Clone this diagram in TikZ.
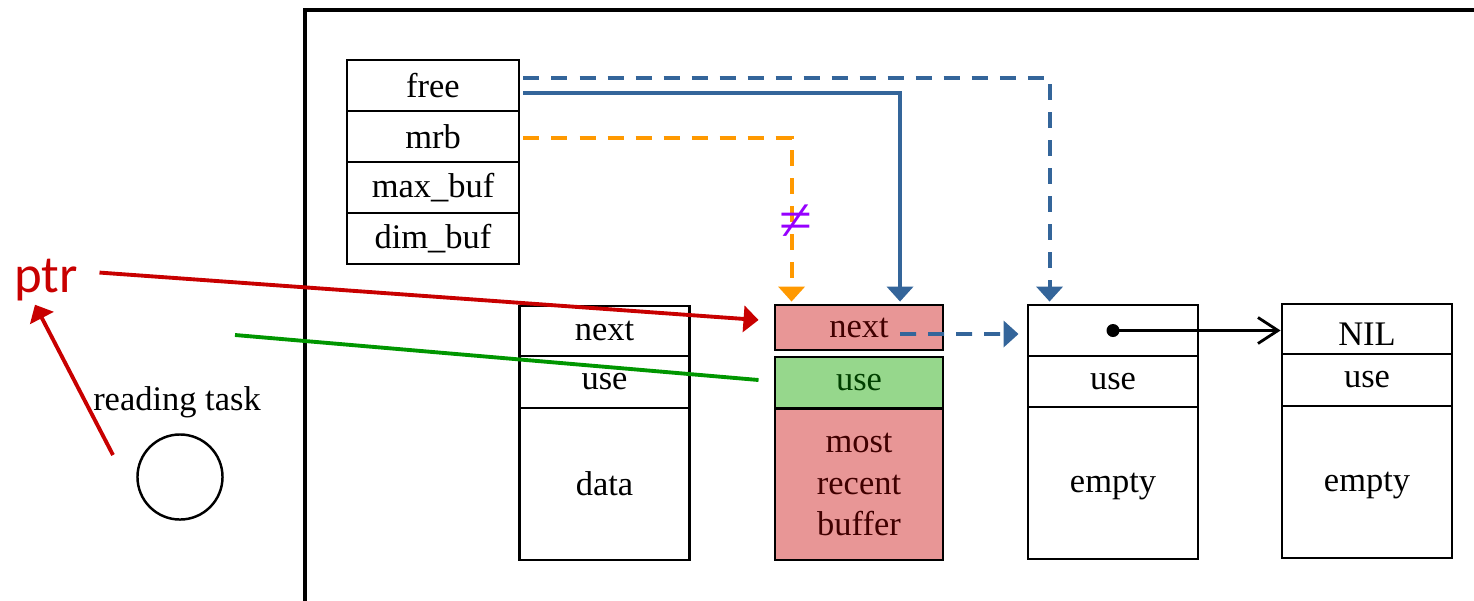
\documentclass[tikz,border=0pt]{standalone}
\usepackage{fontspec}
\setmainfont{Liberation Serif}
\newfontfamily\ptrfont{Carlito}
\usepackage{tikz}
\usetikzlibrary{arrows.meta}

\definecolor{ptrred}{RGB}{200,0,0}
\definecolor{linkblue}{RGB}{52,101,154}
\definecolor{mrborange}{RGB}{255,153,0}
\definecolor{usegreen}{RGB}{0,150,0}
\definecolor{neqpurple}{RGB}{150,0,255}
\definecolor{mrbfill}{RGB}{232,150,150}
\definecolor{usefill}{RGB}{150,215,140}

\begin{document}
\begin{tikzpicture}[x=0.01cm, y=-0.01cm,
    cell/.style={draw, line width=0.8pt, inner sep=0pt, minimum width=1.7cm,
      font=\fontsize{9.8}{11.8}\selectfont, align=center},
    linkhead/.style={-{Triangle[length=0.15cm,width=0.26cm]}},
    blueline/.style={linkblue, line width=1.1pt},
    bluedash/.style={blueline, dash pattern=on 0.16cm off 0.12cm},
    orangedash/.style={mrborange, line width=1.1pt, dash pattern=on 0.16cm off 0.12cm}]
                \useasboundingbox (0,0) rectangle (1474,600);

                \draw[line width=1.2pt] (1480,10) -- (305,10) -- (305,610);

                \node[cell, minimum width=1.72cm, minimum height=0.51cm] (free) at (433,85.5) {free};
                \node[cell, minimum width=1.72cm, minimum height=0.51cm] (mrb) at (433,136.5) {mrb};
                \node[cell, minimum width=1.72cm, minimum height=0.51cm] (maxbuf) at (433,187.5) {max\_buf};
                \node[cell, minimum width=1.72cm, minimum height=0.51cm] (dimbuf) at (433,238.5) {dim\_buf};

                \node[cell, minimum height=0.50cm] (b1next) at (604.5,331) {next};
                \node[cell, minimum height=0.52cm] (b1use) at (604.5,382) {use};
                \node[cell, minimum height=1.52cm] (b1data) at (604.5,484) {data};

                \node[cell, minimum width=1.68cm, minimum height=0.45cm, fill=mrbfill, text=black!75!red] (b2next) at (859,327.5) {next};
                \node[cell, minimum width=1.68cm, minimum height=0.51cm, fill=usefill, text=black!75!green] (b2use) at (859,382.5) {use};
                \node[cell, minimum width=1.68cm, minimum height=1.51cm, fill=mrbfill, text=black!75!red] (b2recent) at (859,484.5) {most\\recent\\buffer};

                \node[cell, minimum height=0.51cm] (b3link) at (1113,330.5) {};
                \node[cell, minimum height=0.51cm] (b3use) at (1113,381.5) {use};
                \node[cell, minimum height=1.52cm, text depth=0pt] (b3empty) at (1113,483) {empty};

                \node[cell, minimum height=0.50cm, text height=0.32cm] (b4nil) at (1367,329) {NIL};
                \node[cell, minimum height=0.52cm] (b4use) at (1367,380) {use};
                \node[cell, minimum height=1.52cm, text depth=0pt] (b4empty) at (1367,482) {empty};

                \node[anchor=base, font=\fontsize{9.8}{11.8}\selectfont] (tasklabel) at (177,410) {reading task};
                \node[draw, circle, line width=0.7pt, minimum size=0.85cm] (task) at (180,477) {};
                \node[anchor=base, inner sep=1pt, text=ptrred, font=\ptrfont\fontsize{15}{18}\selectfont] (ptr) at (46,292) {ptr};
                \coordinate (taskout) at (113,455);
                \coordinate (greenstart) at (235,335);

                \draw[bluedash, linkhead, shorten >=0.02cm] ([xshift=0.03cm,yshift=0.075cm]free.east) -| ([xshift=0.23cm]b3link.north west);
                \draw[blueline, linkhead, shorten >=0.02cm] ([xshift=0.03cm,yshift=-0.075cm]free.east) -| ([xshift=0.41cm]b2next.north);
                \draw[orangedash, linkhead, shorten >=0.02cm] ([xshift=0.03cm,yshift=-0.015cm]mrb.east) -| ([xshift=0.18cm]b2next.north west);
                \node[text=neqpurple, font=\fontsize{17}{20}\selectfont] (neq) at (796,223) {≠};

                \draw[bluedash, linkhead, shorten >=0.08cm] ([xshift=0.41cm,yshift=-0.065cm]b2next.center) -- ([yshift=-0.035cm]b3link.west);
                \fill (b3link.center) circle (0.065cm);
                \draw[line width=0.8pt, -{Straight Barb[length=0.2cm,width=0.26cm]}] (b3link.center) -- (b3link.center -| b4nil.west);

                \draw[ptrred, line width=1.1pt, linkhead] ([xshift=0.175cm,yshift=0.07cm]ptr.east) -- ([xshift=-0.15cm,yshift=0.075cm]b2next.west);
                \draw[usegreen, line width=1.1pt] (greenstart) -- ([xshift=-0.15cm,yshift=0.025cm]b2use.west);
                \draw[ptrred, line width=1.1pt, linkhead] (taskout) -- ([xshift=-0.11cm]ptr.south);
            \end{tikzpicture}
\end{document}
